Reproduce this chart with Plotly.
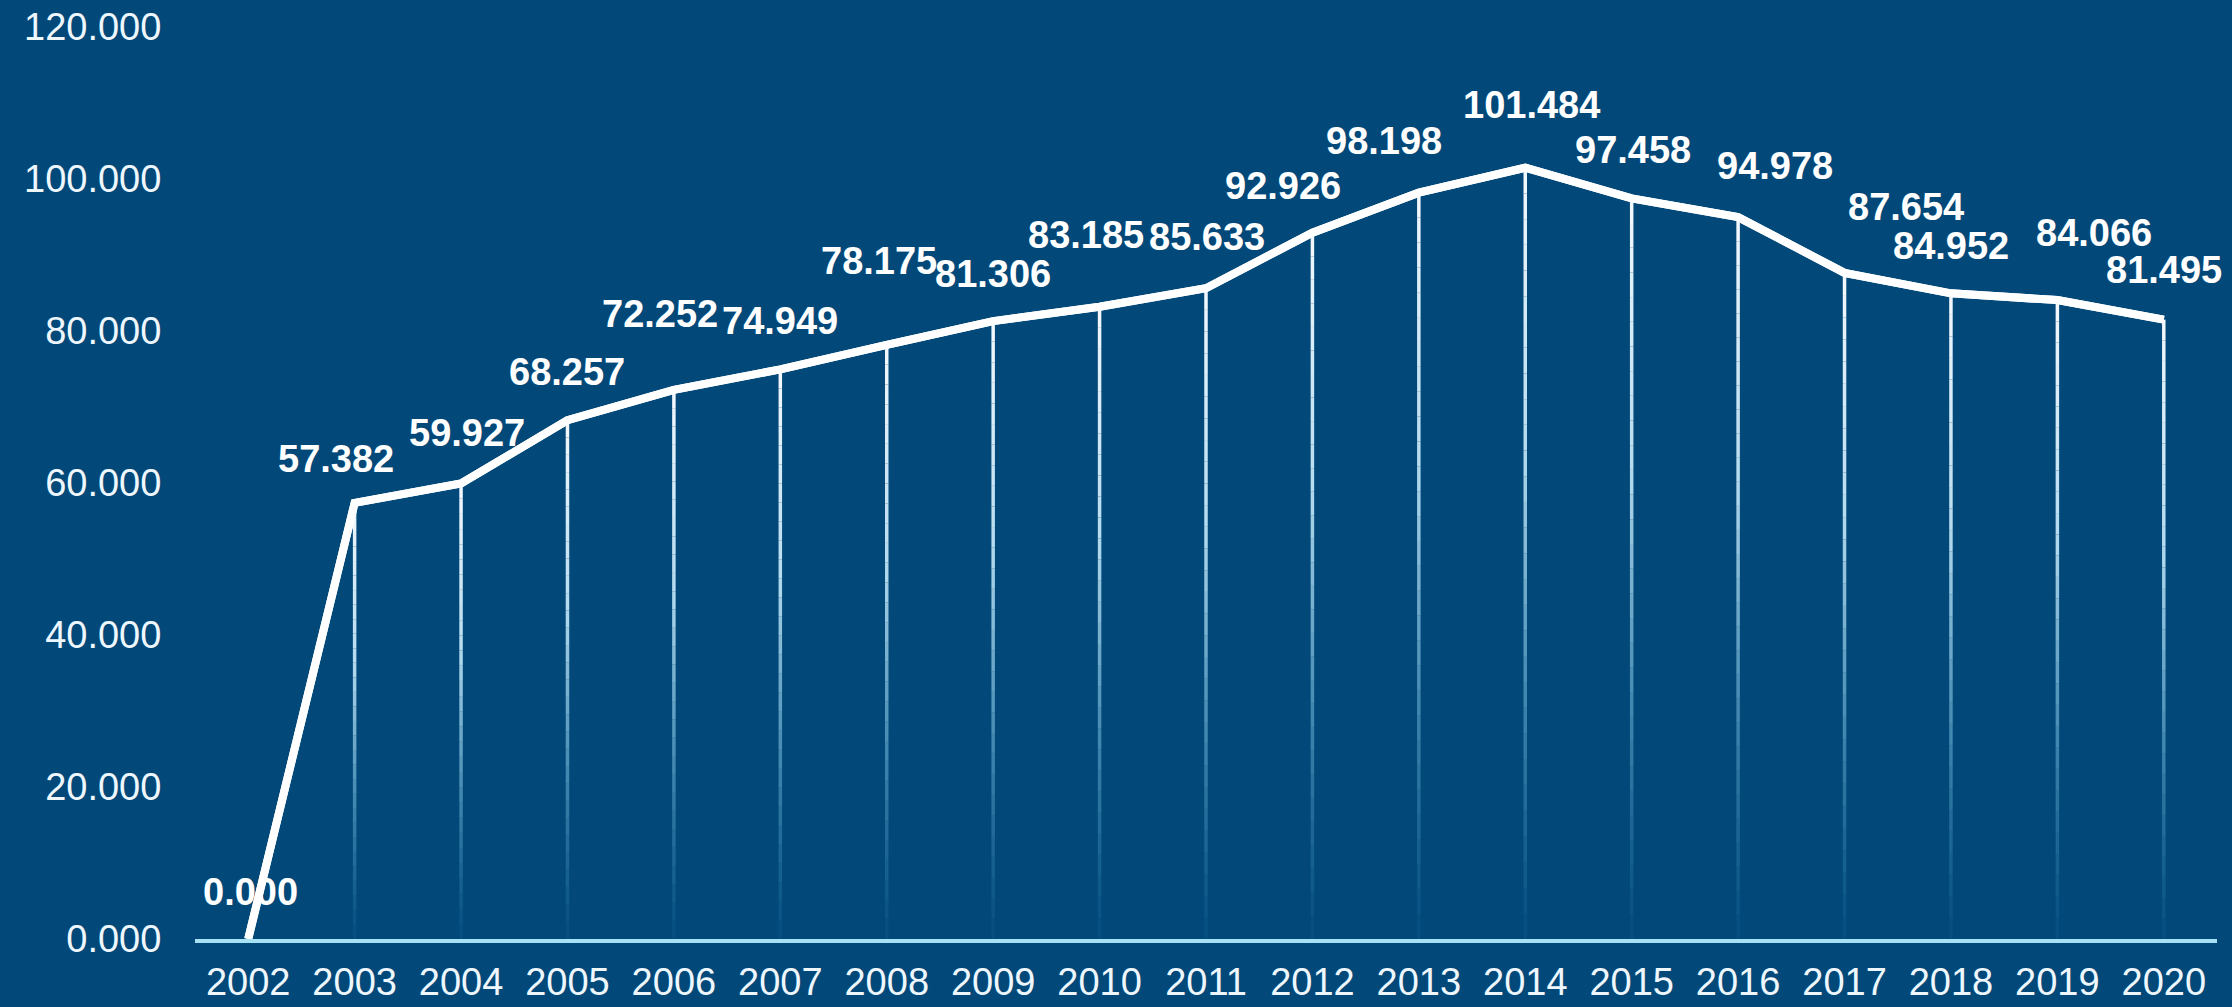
import plotly.graph_objects as go

# ---------------- data ----------------
years = ["2002", "2003", "2004", "2005", "2006", "2007", "2008", "2009", "2010",
         "2011", "2012", "2013", "2014", "2015", "2016", "2017", "2018", "2019", "2020"]
values = [0.000, 57.382, 59.927, 68.257, 72.252, 74.949, 78.175, 81.306, 83.185,
          85.633, 92.926, 98.198, 101.484, 97.458, 94.978, 87.654, 84.952, 84.066, 81.495]
y_tick_values = [0, 20, 40, 60, 80, 100, 120]
y_tick_labels = ["0.000", "20.000", "40.000", "60.000", "80.000", "100.000", "120.000"]

# label offsets (style only, pixels)
label_dx = [2, -19, 6, 0, -14, 0, -8, 0, -14, 1, -29, -35, 6, 1, 37, 61, 0, 37, 0]
label_dy = [47, 44, 51, 48, 76, 48, 84, 47, 72, 51, 47, 52, 63, 48, 51, 66, 47, 67, 50]

BG = "#02497a"
FONT = "Liberation Sans, Arial, sans-serif"

fig = go.Figure()

# main line first so category order follows the years list
fig.add_trace(go.Scatter(
    x=years, y=values, mode="lines",
    line=dict(color="#ffffff", width=8),
    showlegend=False, cliponaxis=False,
))

# gradient drop lines: built as stacked segments from the data values
N = 30
top_rgb = (245, 250, 255)
bot_rgb = (70, 165, 210)
for k in range(N):
    t0 = k / N
    t1 = (k + 1) / N
    tm = (t0 + t1) / 2  # 0 = bottom, 1 = top
    r = int(bot_rgb[0] + (top_rgb[0] - bot_rgb[0]) * tm)
    g = int(bot_rgb[1] + (top_rgb[1] - bot_rgb[1]) * tm)
    b = int(bot_rgb[2] + (top_rgb[2] - bot_rgb[2]) * tm)
    a = 0.05 + 0.95 * min(1.0, tm * 1.6)
    xs, ys = [], []
    for yr, v in zip(years[1:], values[1:]):
        xs += [yr, yr, None]
        ys += [v * t0, v * t1, None]
    fig.add_trace(go.Scatter(
        x=xs, y=ys, mode="lines",
        line=dict(color=f"rgba({r},{g},{b},{a:.3f})", width=3.5),
        hoverinfo="skip", showlegend=False,
    ))

# bring main line to top by re-adding it last
fig.add_trace(go.Scatter(
    x=years, y=values, mode="lines",
    line=dict(color="#ffffff", width=8),
    showlegend=False, cliponaxis=False, hoverinfo="skip",
))

# data labels (category index positions)
for i, (v, dx, dy) in enumerate(zip(values, label_dx, label_dy)):
    fig.add_annotation(
        x=i, y=v, xref="x", yref="y", text=f"<b>{v:.3f}</b>",
        showarrow=False, xanchor="center", yanchor="middle",
        xshift=dx, yshift=dy,
        font=dict(family=FONT, size=38, color="#ffffff"),
    )

fig.update_layout(
    width=2232, height=1007,
    paper_bgcolor=BG, plot_bgcolor=BG,
    margin=dict(l=195, r=15, t=27, b=68, autoexpand=False),
    showlegend=False,
    font=dict(family=FONT, size=38, color="#eef7fd"),
)
fig.update_xaxes(
    type="category", categoryorder="array", categoryarray=years,
    range=[-0.5, 18.5],
    showgrid=False, zeroline=False,
    showline=True, linecolor="#a9e1f4", linewidth=4,
    ticks="outside", ticklen=6, tickcolor="rgba(0,0,0,0)",
    tickfont=dict(family=FONT, size=38, color="#eef7fd"),
)
fig.update_yaxes(
    range=[0, 120],
    tickvals=y_tick_values, ticktext=y_tick_labels,
    showgrid=False, zeroline=False, showline=False,
    ticks="outside", ticklen=25, tickcolor="rgba(0,0,0,0)",
    tickfont=dict(family=FONT, size=38, color="#eef7fd"),
)

fig.write_html("out.html")
